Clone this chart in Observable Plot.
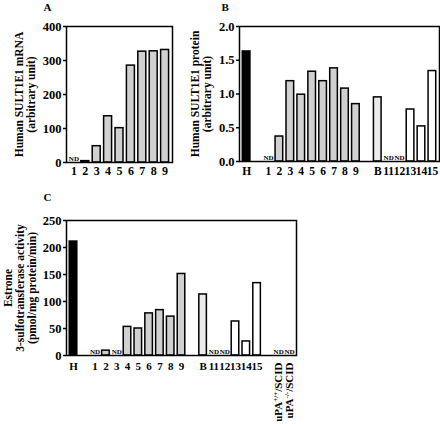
<!DOCTYPE html>
<html><head><meta charset="utf-8">
<script src="https://cdn.jsdelivr.net/npm/d3@7"></script>
<script src="https://cdn.jsdelivr.net/npm/@observablehq/plot@0.6"></script>
<style>
body{margin:0;background:#fff;}
#wrap{position:relative;width:440px;height:424px;overflow:hidden;background:#fff;}
.panel{position:absolute;}
</style></head><body><div id="wrap"></div>
<script>
// ---- Panel A: Human SULT1E1 mRNA ----
const catsA   = ["1","2","3","4","5","6","7","8","9"];
const groupsA = ["liver","liver","liver","liver","liver","liver","liver","liver","liver"];
const valuesA = [null, 4, 48, 136, 101, 285, 326, 327, 331]; // null = ND
const ticksA  = [0, 100, 200, 300, 400];

// ---- Panel B: Human SULT1E1 protein ----
const catsB   = ["H","1","2","3","4","5","6","7","8","9","B","11","12","13","14","15"];
const groupsB = ["human","liver","liver","liver","liver","liver","liver","liver","liver","liver","control","other","other","other","other","other"];
const valuesB = [1.63, null, 0.37, 1.19, 0.99, 1.33, 1.19, 1.38, 1.08, 0.85, 0.95, null, null, 0.77, 0.52, 1.34];
const ticksB  = [0, 0.5, 1.0, 1.5, 2.0];

// ---- Panel C: Estrone 3-sulfotransferase activity ----
const catsC   = ["H","1","2","3","4","5","6","7","8","9","B","11","12","13","14","15","uPA+/+/SCID","uPA-/-/SCID"];
const groupsC = ["human","liver","liver","liver","liver","liver","liver","liver","liver","liver","control","other","other","other","other","other","mouse","mouse"];
const valuesC = [211, null, 9, null, 53, 50, 78, 84, 72, 151, 113, null, null, 63, 26, 134, null, null];
const ticksC  = [0, 50, 100, 150, 200, 250];

// categories preceded by an empty slot on the axis
const sectionStarts = ["1", "B", "uPA+/+/SCID"];

const groupDomain = ["human","liver","control","other","mouse"];
const groupRange  = ["#000000","#d0d0d0","#ececec","#ffffff","#ffffff"];

const FONT = "'Liberation Serif','Times New Roman',serif";

function buildPanel(o) {
  const rows = o.cats.map((c, i) => ({key: c, label: c, value: o.values[i], group: o.groups[i], rotated: c.startsWith("uPA")}));
  const domain = [];
  o.cats.forEach((c, i) => { if (i > 0 && sectionStarts.includes(c)) domain.push("gap" + i); domain.push(c); });
  const plot = Plot.plot({
    width: o.width, height: o.height,
    marginLeft: o.m[0], marginRight: o.m[1], marginTop: o.m[2], marginBottom: o.m[3],
    style: {fontFamily: FONT, fontWeight: "bold", fontSize: "12px", background: "transparent", overflow: "visible", color: "#000"},
    x: {type: "band", domain, padding: 0.3, round: false, axis: null},
    y: {domain: o.yDomain, nice: false},
    color: {domain: groupDomain, range: groupRange},
    marks: [
      Plot.barY(rows.filter(d => d.value != null), {x: "key", y: "value", fill: "group", stroke: "#000", strokeWidth: 1.5}),
      Plot.text(rows.filter(d => d.value == null), {x: "key", y: 0, text: () => "ND", fontSize: 7, lineAnchor: "bottom", dy: -2}),
      Plot.frame({stroke: "#000", strokeWidth: 1.5}),
      Plot.axisY({ticks: o.ticks, tickFormat: o.fmt, tickSize: 3, tickPadding: 2, fontSize: 12.5, label: null, strokeWidth: 1.5}),
      Plot.text(rows.filter(d => !d.rotated), {x: "key", text: "label", frameAnchor: "bottom", lineAnchor: "top", dy: o.xdy, fontSize: o.xfs}),
      Plot.text(rows.filter(d => d.rotated), {x: "key", text: "label", frameAnchor: "bottom", rotate: -90, textAnchor: "end", lineAnchor: "middle", dy: o.xdy, fontSize: 11}),
      Plot.text([o.title], {frameAnchor: "left", text: d => d, rotate: -90, dx: o.titleDx, textAnchor: "middle", lineAnchor: "middle", fontSize: 11.5, lineHeight: 1.05}),
      Plot.text([o.letter], {frameAnchor: "top-left", text: d => d, textAnchor: "start", lineAnchor: "top", dx: o.letterDx, dy: o.letterDy, fontSize: 11})
    ]
  });
  // superscript genotype marks in the mouse labels
  d3.select(plot).selectAll("text").filter(function() { return this.textContent.startsWith("uPA"); })
    .each(function() {
      const t = d3.select(this);
      const s = this.textContent; // e.g. uPA+/+/SCID
      const sup = s.slice(3, 6);
      const rest = s.slice(6);
      t.text(null);
      t.append("tspan").text("uPA");
      t.append("tspan").attr("baseline-shift", "super").attr("font-size", "7px").text(sup);
      t.append("tspan").text(rest);
    });
  const div = document.createElement("div");
  div.className = "panel";
  div.style.left = o.left + "px"; div.style.top = o.top + "px";
  div.style.width = o.width + "px"; div.style.height = o.height + "px";
  div.appendChild(plot);
  document.getElementById("wrap").appendChild(div);
}

buildPanel({cats: catsA, values: valuesA, groups: groupsA, ticks: ticksA, yDomain: [0, 400], fmt: d3.format("d"),
  title: "Human SULT1E1 mRNA\n(arbitrary unit)", letter: "A",
  left: 0, top: 0, width: 200, height: 200, m: [66, 28, 26, 38], xdy: 4, xfs: 12, titleDx: -41, letterDx: -23, letterDy: -23});

buildPanel({cats: catsB, values: valuesB, groups: groupsB, ticks: ticksB, yDomain: [0, 2], fmt: d3.format(".1f"),
  title: "Human SULT1E1 protein\n(arbitrary unit)", letter: "B",
  left: 180, top: 0, width: 260, height: 200, m: [59, 1, 26, 39], xdy: 5, xfs: 11.5, titleDx: -38, letterDx: -18, letterDy: -23});

buildPanel({cats: catsC, values: valuesC, groups: groupsC, ticks: ticksC, yDomain: [0, 250], fmt: d3.format("d"),
  title: "Estrone\n3-sulfotransferase activity\n(pmol/mg protein/min)", letter: "C",
  left: 0, top: 185, width: 300, height: 239, m: [66, 4, 35, 69], xdy: 7, xfs: 11, titleDx: -46, letterDx: -23, letterDy: -27});
</script></body></html>
